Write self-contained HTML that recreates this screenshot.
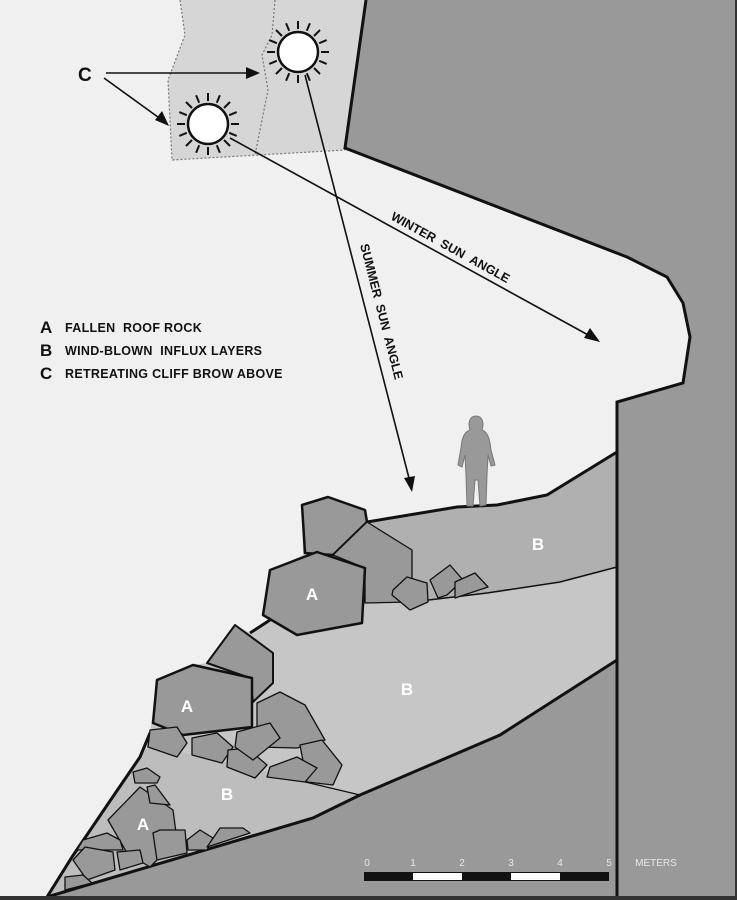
<!DOCTYPE html>
<html><head><meta charset="utf-8"><style>html,body{margin:0;padding:0;background:#f0f0f0}svg{display:block}</style></head>
<body>
<svg width="737" height="900" viewBox="0 0 737 900" xmlns="http://www.w3.org/2000/svg" font-family="Liberation Sans, Arial, sans-serif">
<rect width="737" height="900" fill="#f0f0f0"/>
<!-- brow regions -->
<polygon points="180,0 366,0 345,150 172,160 168,80 185,35" fill="#d6d6d6"/>
<path d="M180,0 L185,35 L168,80 L172,160 L345,150" fill="none" stroke="#777" stroke-width="1.2" stroke-dasharray="2,2"/>
<path d="M275,0 L272,35 L262,55 L268,90 L255,155" fill="none" stroke="#777" stroke-width="1.2" stroke-dasharray="2,2"/>
<!-- debris area base (middle B) -->
<polygon points="47,897 72,857 112,798 140,757 150,733 157,680 193,665 207,663 235,625 250,633 270,620 263,615 270,570 303,555 302,505 328,497 365,510 367,522 457,507 497,505 547,495 617,452 617,660 500,735 360,795 313,818" fill="#c6c6c6"/>
<!-- upper B band -->
<polygon points="367,522 457,507 497,505 547,495 617,452 617,567 560,582 487,593 412,602 365,603" fill="#b0b0b0"/>
<path d="M617,567 L560,582 L487,593 L412,602" fill="none" stroke="#111" stroke-width="1.5"/>
<!-- lower B -->
<polygon points="47,897 72,857 112,798 140,757 150,745 300,780 360,795 313,818" fill="#bdbdbd"/>
<path d="M297,780 L360,795" stroke="#111" stroke-width="1.3"/>
<!-- bedrock -->
<polygon points="366,0 737,0 737,900 0,900 0,899 47,897 313,818 360,795 500,735 617,660 617,402 683,383 690,337 683,303 667,277 627,257 345,148" fill="#999"/>
<path d="M366,0 L345,148 L627,257 L667,277 L683,303 L690,337 L683,383 L617,402 L617,900" fill="none" stroke="#111" stroke-width="3"/>
<path d="M617,452 L547,495 L497,505 L457,507 L367,522" fill="none" stroke="#111" stroke-width="3"/>
<path d="M47,897 L313,818 L360,795 L500,735 L617,660" fill="none" stroke="#111" stroke-width="3"/>
<path d="M47,897 L72,857 L112,798 L140,757 L150,733" fill="none" stroke="#111" stroke-width="3"/>
<path d="M250,633 L270,620" fill="none" stroke="#111" stroke-width="3"/>
<rect x="0" y="896" width="737" height="4" fill="#333"/>
<rect x="735" y="0" width="2" height="900" fill="#333"/>
<!-- rocks -->
<g fill="#999" stroke="#111" stroke-width="1.3" stroke-linejoin="round">
<polygon points="302,505 328,497 365,510 367,522 333,555 305,553" stroke-width="2.5"/>
<polygon points="333,555 367,522 412,550 412,602 365,603 365,568"/>
<polygon points="270,570 317,552 365,568 362,623 297,635 263,615" stroke-width="2.5"/>
<polygon points="393,590 407,577 427,583 428,602 410,610 392,595"/>
<polygon points="430,580 450,565 463,580 447,595 438,598"/>
<polygon points="455,582 475,573 488,587 455,598"/>
<polygon points="207,663 235,625 273,653 273,683 253,702 250,678" stroke-width="2"/>
<polygon points="257,703 280,692 305,705 325,740 297,748 257,747"/>
<polygon points="157,680 193,665 252,678 252,727 183,735 153,723" stroke-width="2.5"/>
<polygon points="150,730 177,727 187,743 177,757 148,747"/>
<polygon points="192,738 217,733 233,747 222,763 192,755"/>
<polygon points="228,750 247,748 267,765 255,778 227,767"/>
<polygon points="237,732 270,723 280,738 253,760 235,747"/>
<polygon points="300,745 322,740 342,765 333,785 307,782"/>
<polygon points="270,767 297,757 317,768 305,782 267,777"/>
<polygon points="108,820 140,787 173,810 177,840 150,867 127,853"/>
<polygon points="133,772 147,768 160,777 157,783 135,783"/>
<polygon points="147,787 155,785 170,805 150,803"/>
<polygon points="153,833 160,830 185,830 187,853 157,860"/>
<polygon points="187,840 200,830 213,838 207,850 188,850"/>
<polygon points="207,847 220,828 243,828 250,833"/>
<polygon points="83,840 107,833 120,840 123,850 77,850"/>
<polygon points="73,860 85,847 113,852 115,870 87,880"/>
<polygon points="117,852 140,850 143,863 120,870"/>
<polygon points="65,877 83,875 92,883 65,890"/>
</g>
<g fill="#fff" font-weight="bold" font-size="17" text-anchor="middle">
<text x="312" y="600">A</text><text x="187" y="712">A</text><text x="143" y="830">A</text>
<text x="538" y="550">B</text><text x="407" y="695">B</text><text x="227" y="800">B</text>
</g>
<!-- person -->
<path d="M476,416 C483,416 484,424 482,430 C488,432 490,440 491,450 L495,465 L491,466 L488,455 L487,475 L486,505 L480,506 L478,480 L475,480 L473,506 L467,506 L466,475 L465,455 L462,467 L458,465 L461,448 C462,438 464,432 470,430 C468,424 469,416 476,416 Z" fill="#999" stroke="#777" stroke-width="1"/>
<!-- suns -->
<g stroke="#111" stroke-width="2">
<g transform="translate(298,52)">
<circle r="20" fill="#fff" stroke="#111" stroke-width="2.5"/>
<path d="M0,-23V-31M0,23V31M-23,0H-31M23,0H31M16,-16L22,-22M-16,-16L-22,-22M16,16L22,22M-16,16L-22,22M8.8,-21.2L11.9,-28.7M-8.8,-21.2L-11.9,-28.7M8.8,21.2L11.9,28.7M-8.8,21.2L-11.9,28.7M21.2,8.8L28.7,11.9M-21.2,8.8L-28.7,11.9M21.2,-8.8L28.7,-11.9M-21.2,-8.8L-28.7,-11.9"/>
</g>
<g transform="translate(208,124)">
<circle r="20" fill="#fff" stroke="#111" stroke-width="2.5"/>
<path d="M0,-23V-31M0,23V31M-23,0H-31M23,0H31M16,-16L22,-22M-16,-16L-22,-22M16,16L22,22M-16,16L-22,22M8.8,-21.2L11.9,-28.7M-8.8,-21.2L-11.9,-28.7M8.8,21.2L11.9,28.7M-8.8,21.2L-11.9,28.7M21.2,8.8L28.7,11.9M-21.2,8.8L-28.7,11.9M21.2,-8.8L28.7,-11.9M-21.2,-8.8L-28.7,-11.9"/>
</g>
</g>
<!-- arrows -->
<g stroke="#111" stroke-width="1.6" fill="none">
<path d="M106,73 L250,73"/><path d="M104,78 L162,120"/>
<path d="M305,75 L410,482"/><path d="M230,138 L590,336"/>
</g>
<g fill="#111">
<polygon points="260,73 246,67 246,79"/>
<polygon points="169,126 155,120 162,111"/>
<polygon points="412,492 404,478 415,476"/>
<polygon points="600,342 584,338 590,328"/>
</g>
<text x="78" y="81" font-size="19" font-weight="bold" fill="#111">C</text>
<text font-size="12.5" font-weight="bold" fill="#111" transform="translate(390,219) rotate(28.8)">WINTER&#160;&#160;SUN&#160;&#160;ANGLE</text>
<text font-size="12.5" font-weight="bold" fill="#111" transform="translate(360,245) rotate(75.5)">SUMMER&#160;&#160;SUN&#160;&#160;ANGLE</text>
<!-- legend -->
<g fill="#111" font-weight="bold">
<text x="40" y="333" font-size="17">A</text><text x="65" y="332" font-size="12.5" letter-spacing="0.3">FALLEN&#160; ROOF ROCK</text>
<text x="40" y="356" font-size="17">B</text><text x="65" y="355" font-size="12.5" letter-spacing="0.3">WIND-BLOWN&#160; INFLUX LAYERS</text>
<text x="40" y="379" font-size="17">C</text><text x="65" y="378" font-size="12.5" letter-spacing="0.3">RETREATING CLIFF BROW ABOVE</text>
</g>
<!-- scale -->
<rect x="364" y="872" width="245" height="9" fill="#111"/>
<rect x="413" y="873" width="49" height="7" fill="#fff"/>
<rect x="511" y="873" width="49" height="7" fill="#fff"/>
<g fill="#e8e8e8" font-size="10" text-anchor="middle">
<text x="367" y="866">0</text><text x="413" y="866">1</text><text x="462" y="866">2</text><text x="511" y="866">3</text><text x="560" y="866">4</text><text x="609" y="866">5</text>
<text x="656" y="866">METERS</text>
</g>
</svg>
</body></html>
